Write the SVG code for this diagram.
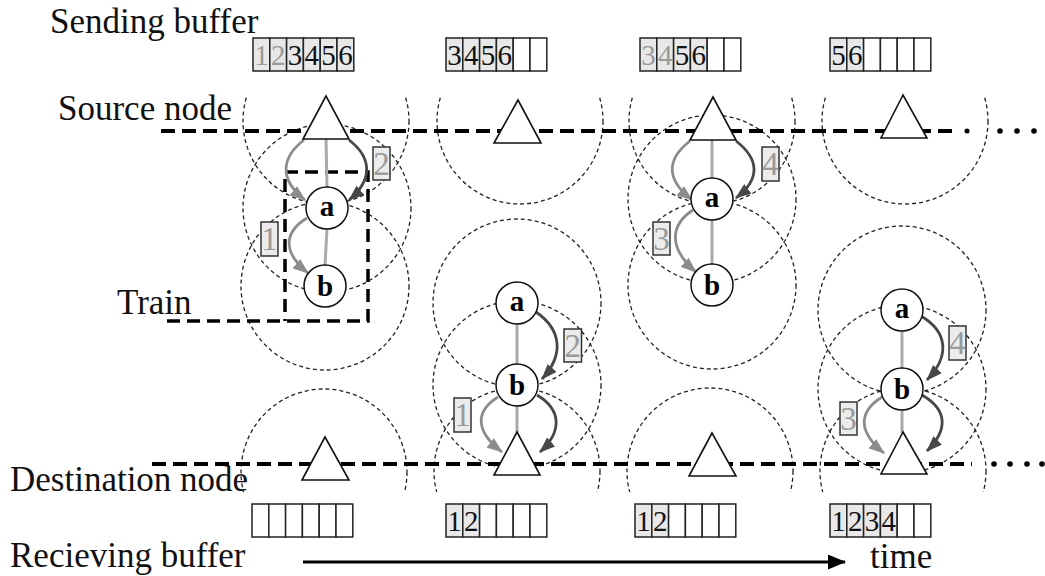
<svg xmlns="http://www.w3.org/2000/svg" width="1045" height="576" viewBox="0 0 1045 576">
<defs>
<style>
text{font-family:"Liberation Serif","Times New Roman",serif;}
.lbl{font-size:35px;fill:#111;}
.range{fill:none;stroke:#222;stroke-width:1.3;stroke-dasharray:4 3;}
.axis{fill:none;stroke:#000;stroke-width:4;stroke-dasharray:14 7;}
.train{fill:none;stroke:#000;stroke-width:3.5;stroke-dasharray:13 7;}
.tri{fill:#fff;stroke:#111;stroke-width:1.6;}
.node circle{fill:#fff;stroke:#111;stroke-width:1.5;}
.nl{font-size:29px;font-weight:bold;text-anchor:middle;fill:#000;}
.link{stroke:#aaa;stroke-width:3;}
.ga{fill:none;stroke:#8c8c8c;stroke-width:2.8;marker-end:url(#hg);}
.da{fill:none;stroke:#474747;stroke-width:2.8;marker-end:url(#hd);}
.cell{fill:#fff;stroke:#222;stroke-width:1.5;}
.f{fill:#e8e8e8;}
.dg{font-size:29px;text-anchor:middle;fill:#111;}
.g{fill:#9a9a9a;}
.tag rect{fill:#ececec;stroke:#333;stroke-width:1.5;}
.tag text{font-size:33px;text-anchor:middle;fill:#9a9a9a;}
.dot{fill:#000;}
</style>
<marker id="hg" markerUnits="userSpaceOnUse" markerWidth="16" markerHeight="12" refX="15" refY="6" orient="auto"><path d="M0,0 L16,6 L0,12 z" fill="#8c8c8c"/></marker>
<marker id="hd" markerUnits="userSpaceOnUse" markerWidth="16" markerHeight="12" refX="15" refY="6" orient="auto"><path d="M0,0 L16,6 L0,12 z" fill="#474747"/></marker>
<marker id="ht" markerUnits="userSpaceOnUse" markerWidth="18" markerHeight="15" refX="17" refY="7.5" orient="auto"><path d="M0,0 L18,7.5 L0,15 z" fill="#000"/></marker>
<clipPath id="ctop"><rect x="0" y="97" width="1045" height="479"/></clipPath>
<clipPath id="cbot"><rect x="0" y="0" width="1045" height="492"/></clipPath>
</defs>
<rect width="1045" height="576" fill="#fff"/>

<!-- labels -->
<g id="labels">
<text class="lbl" x="50" y="33">Sending buffer</text>
<text class="lbl" x="58" y="120">Source node</text>
<text class="lbl" x="117" y="314">Train</text>
<text class="lbl" x="10" y="491">Destination node</text>
<text class="lbl" x="10" y="567">Recieving buffer</text>
<text class="lbl" x="870" y="568">time</text>
</g>

<!-- range circles -->
<g id="ranges">
<g clip-path="url(#ctop)">
<circle class="range" cx="326" cy="121" r="83"/>
<circle class="range" cx="520" cy="121" r="83"/>
<circle class="range" cx="712" cy="121" r="83"/>
<circle class="range" cx="905" cy="121" r="83"/>
</g>
<circle class="range" cx="327" cy="208" r="84"/>
<circle class="range" cx="325" cy="286" r="84"/>
<circle class="range" cx="517" cy="303" r="84"/>
<circle class="range" cx="517" cy="385" r="84"/>
<circle class="range" cx="712" cy="199" r="84"/>
<circle class="range" cx="712" cy="285" r="84"/>
<circle class="range" cx="902" cy="310" r="84"/>
<circle class="range" cx="902" cy="389" r="84"/>
<g clip-path="url(#cbot)">
<circle class="range" cx="324" cy="472" r="83"/>
<circle class="range" cx="517" cy="471" r="83"/>
<circle class="range" cx="710" cy="471" r="83"/>
<circle class="range" cx="903" cy="471" r="83"/>
</g>
</g>

<!-- source / destination lines -->
<g id="lines">
<line class="axis" x1="161" y1="131" x2="958" y2="131"/>
<circle class="dot" cx="967" cy="131" r="2.5"/>
<circle class="dot" cx="1000" cy="131" r="2.8"/>
<circle class="dot" cx="1017" cy="131" r="2.8"/>
<circle class="dot" cx="1034" cy="131" r="2.8"/>
<line class="axis" x1="152" y1="464" x2="972" y2="464"/>
<circle class="dot" cx="994" cy="464" r="2.8"/>
<circle class="dot" cx="1010" cy="464" r="2.8"/>
<circle class="dot" cx="1027" cy="464" r="2.8"/>
<circle class="dot" cx="1042" cy="464" r="2.8"/>
</g>

<!-- train marker -->
<g id="train">
<path class="train" d="M167,321 H368 V172 H285 V321"/>
</g>

<!-- connectors -->
<g id="connectors">
<line class="link" x1="326" y1="139" x2="327" y2="187"/>
<line class="link" x1="327" y1="229" x2="325" y2="265"/>
<line class="link" x1="517" y1="324" x2="517" y2="364"/>
<line class="link" x1="517" y1="406" x2="517" y2="433"/>
<line class="link" x1="712" y1="140" x2="712" y2="178"/>
<line class="link" x1="712" y1="220" x2="712" y2="264"/>
<line class="link" x1="902" y1="331" x2="902" y2="368"/>
<line class="link" x1="902" y1="410" x2="902" y2="433"/>

<path class="ga" d="M304,140 C283,156 277,178 305,200"/>
<path class="da" d="M349,140 C370,156 375,178 349,200"/>
<path class="ga" d="M307,218 C284,232 282,252 308,273"/>

<path class="da" d="M536,312 C562,330 564,355 542,379"/>
<path class="ga" d="M498,397 C474,412 476,432 502,452"/>
<path class="da" d="M537,395 C562,410 562,432 540,452"/>

<path class="ga" d="M690,141 C668,158 664,178 692,200"/>
<path class="da" d="M736,141 C758,158 762,178 736,198"/>
<path class="ga" d="M693,210 C670,225 668,248 696,272"/>

<path class="da" d="M921,316 C948,332 950,356 927,380"/>
<path class="ga" d="M882,397 C858,412 858,432 884,453"/>
<path class="da" d="M922,395 C948,410 948,430 927,451"/>

<line x1="303" y1="562" x2="845" y2="562" stroke="#000" stroke-width="3.2" marker-end="url(#ht)"/>
</g>

<!-- packet tags -->
<g id="tags">
<g class="tag"><rect x="373" y="147" width="17" height="33"/><text x="381.5" y="175">2</text></g>
<g class="tag"><rect x="261" y="222" width="17" height="34"/><text x="269.5" y="250">1</text></g>
<g class="tag"><rect x="564" y="329" width="17.5" height="33"/><text x="572.7" y="357">2</text></g>
<g class="tag"><rect x="454" y="398" width="17" height="34"/><text x="462.5" y="426">1</text></g>
<g class="tag"><rect x="762" y="147" width="17" height="34"/><text x="770.5" y="175">4</text></g>
<g class="tag"><rect x="653" y="222" width="17" height="33"/><text x="661.5" y="250">3</text></g>
<g class="tag"><rect x="949" y="326" width="17" height="34"/><text x="957.5" y="354">4</text></g>
<g class="tag"><rect x="840" y="402" width="17" height="33"/><text x="848.5" y="430">3</text></g>
</g>

<!-- nodes -->
<g id="src1" class="node"><polygon class="tri" points="326,96 303,139 349,139"/></g>
<g id="src2" class="node"><polygon class="tri" points="518,100 494,143 541,143"/></g>
<g id="src3" class="node"><polygon class="tri" points="713,97 690,140 736,140"/></g>
<g id="src4" class="node"><polygon class="tri" points="903,95 881,138 927,138"/></g>

<g id="a1" class="node"><circle cx="327" cy="208" r="21"/><text class="nl" x="327" y="216">a</text></g>
<g id="b1" class="node"><circle cx="325" cy="286" r="21"/><text class="nl" x="325" y="296">b</text></g>
<g id="a2" class="node"><circle cx="517" cy="303" r="21"/><text class="nl" x="517" y="311">a</text></g>
<g id="b2" class="node"><circle cx="517" cy="385" r="21"/><text class="nl" x="517" y="395">b</text></g>
<g id="a3" class="node"><circle cx="712" cy="199" r="21"/><text class="nl" x="712" y="207">a</text></g>
<g id="b3" class="node"><circle cx="712" cy="285" r="21"/><text class="nl" x="712" y="295">b</text></g>
<g id="a4" class="node"><circle cx="902" cy="310" r="21"/><text class="nl" x="902" y="318">a</text></g>
<g id="b4" class="node"><circle cx="902" cy="389" r="21"/><text class="nl" x="902" y="399">b</text></g>

<g id="dst1" class="node"><polygon class="tri" points="325,437 302,480 349,480"/></g>
<g id="dst2" class="node"><polygon class="tri" points="517,432 494,475 540,475"/></g>
<g id="dst3" class="node"><polygon class="tri" points="712,433 689,476 736,476"/></g>
<g id="dst4" class="node"><polygon class="tri" points="903,432 881,474 927,474"/></g>

<!-- sending buffers -->
<g id="sbuf1">
<rect class="cell f" x="253" y="38" width="16.8" height="33"/><rect class="cell f" x="269.8" y="38" width="16.8" height="33"/><rect class="cell f" x="286.6" y="38" width="16.8" height="33"/><rect class="cell f" x="303.4" y="38" width="16.8" height="33"/><rect class="cell f" x="320.2" y="38" width="16.8" height="33"/><rect class="cell f" x="337" y="38" width="16.8" height="33"/>
<text class="dg g" x="261.4" y="65">1</text><text class="dg g" x="278.2" y="65">2</text><text class="dg" x="295" y="65">3</text><text class="dg" x="311.8" y="65">4</text><text class="dg" x="328.6" y="65">5</text><text class="dg" x="345.4" y="65">6</text>
</g>
<g id="sbuf2">
<rect class="cell f" x="446" y="38" width="16.8" height="33"/><rect class="cell f" x="462.8" y="38" width="16.8" height="33"/><rect class="cell f" x="479.6" y="38" width="16.8" height="33"/><rect class="cell f" x="496.4" y="38" width="16.8" height="33"/><rect class="cell" x="513.2" y="38" width="16.8" height="33"/><rect class="cell" x="530" y="38" width="16.8" height="33"/>
<text class="dg" x="454.4" y="65">3</text><text class="dg" x="471.2" y="65">4</text><text class="dg" x="488" y="65">5</text><text class="dg" x="504.8" y="65">6</text>
</g>
<g id="sbuf3">
<rect class="cell f" x="640" y="38" width="16.8" height="33"/><rect class="cell f" x="656.8" y="38" width="16.8" height="33"/><rect class="cell f" x="673.6" y="38" width="16.8" height="33"/><rect class="cell f" x="690.4" y="38" width="16.8" height="33"/><rect class="cell" x="707.2" y="38" width="16.8" height="33"/><rect class="cell" x="724" y="38" width="16.8" height="33"/>
<text class="dg g" x="648.4" y="65">3</text><text class="dg g" x="665.2" y="65">4</text><text class="dg" x="682" y="65">5</text><text class="dg" x="698.8" y="65">6</text>
</g>
<g id="sbuf4">
<rect class="cell f" x="830" y="38" width="16.8" height="33"/><rect class="cell f" x="846.8" y="38" width="16.8" height="33"/><rect class="cell" x="863.6" y="38" width="16.8" height="33"/><rect class="cell" x="880.4" y="38" width="16.8" height="33"/><rect class="cell" x="897.2" y="38" width="16.8" height="33"/><rect class="cell" x="914" y="38" width="16.8" height="33"/>
<text class="dg" x="838.4" y="65">5</text><text class="dg" x="855.2" y="65">6</text>
</g>

<!-- receiving buffers -->
<g id="rbuf1">
<rect class="cell" x="252" y="504" width="16.8" height="33"/><rect class="cell" x="268.8" y="504" width="16.8" height="33"/><rect class="cell" x="285.6" y="504" width="16.8" height="33"/><rect class="cell" x="302.4" y="504" width="16.8" height="33"/><rect class="cell" x="319.2" y="504" width="16.8" height="33"/><rect class="cell" x="336" y="504" width="16.8" height="33"/>
</g>
<g id="rbuf2">
<rect class="cell f" x="446" y="504" width="16.8" height="33"/><rect class="cell f" x="462.8" y="504" width="16.8" height="33"/><rect class="cell" x="479.6" y="504" width="16.8" height="33"/><rect class="cell" x="496.4" y="504" width="16.8" height="33"/><rect class="cell" x="513.2" y="504" width="16.8" height="33"/><rect class="cell" x="530" y="504" width="16.8" height="33"/>
<text class="dg" x="454.4" y="531">1</text><text class="dg" x="471.2" y="531">2</text>
</g>
<g id="rbuf3">
<rect class="cell f" x="635" y="504" width="16.8" height="33"/><rect class="cell f" x="651.8" y="504" width="16.8" height="33"/><rect class="cell" x="668.6" y="504" width="16.8" height="33"/><rect class="cell" x="685.4" y="504" width="16.8" height="33"/><rect class="cell" x="702.2" y="504" width="16.8" height="33"/><rect class="cell" x="719" y="504" width="16.8" height="33"/>
<text class="dg" x="643.4" y="531">1</text><text class="dg" x="660.2" y="531">2</text>
</g>
<g id="rbuf4">
<rect class="cell f" x="830" y="504" width="16.8" height="33"/><rect class="cell f" x="846.8" y="504" width="16.8" height="33"/><rect class="cell f" x="863.6" y="504" width="16.8" height="33"/><rect class="cell f" x="880.4" y="504" width="16.8" height="33"/><rect class="cell" x="897.2" y="504" width="16.8" height="33"/><rect class="cell" x="914" y="504" width="16.8" height="33"/>
<text class="dg" x="838.4" y="531">1</text><text class="dg" x="855.2" y="531">2</text><text class="dg" x="872" y="531">3</text><text class="dg" x="888.8" y="531">4</text>
</g>
</svg>
